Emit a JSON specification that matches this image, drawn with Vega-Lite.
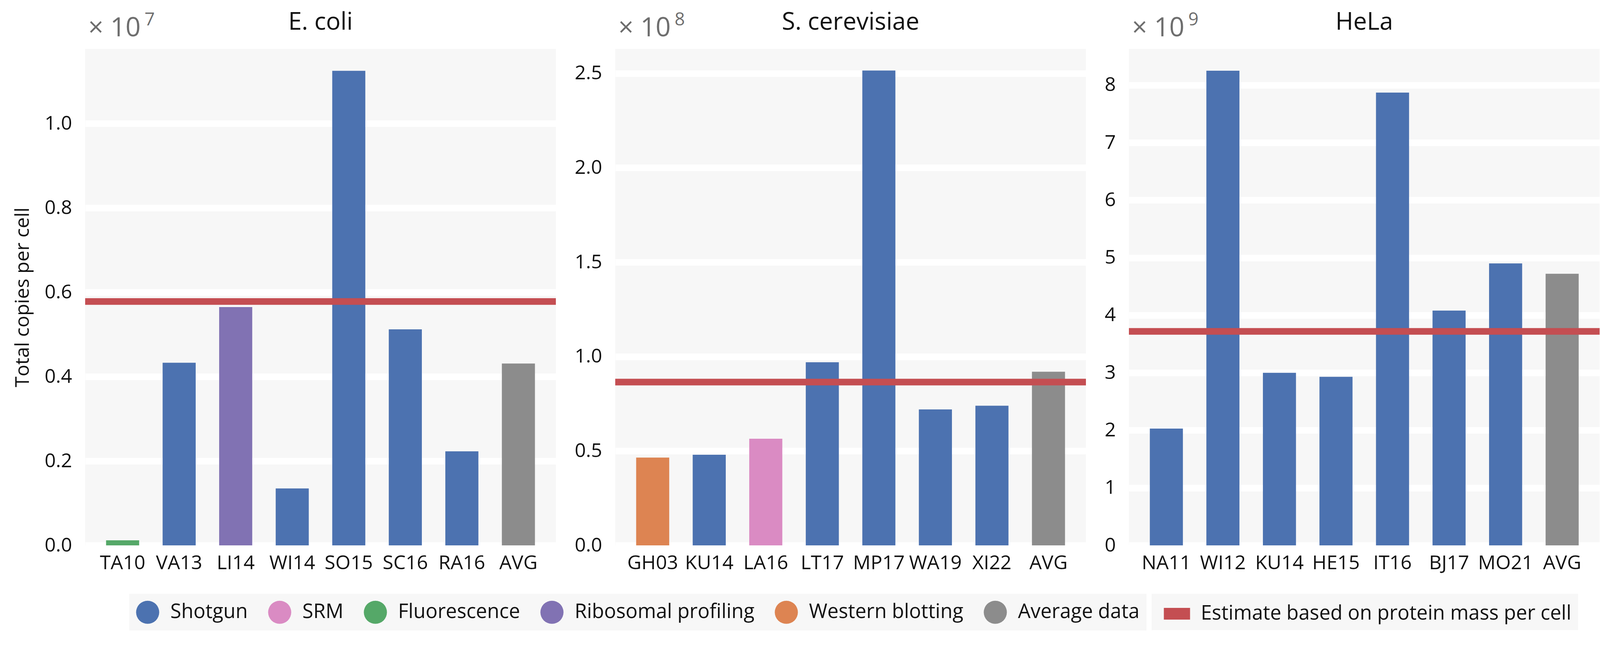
{
  "$schema": "https://vega.github.io/schema/vega-lite/v6.json",
  "padding": {"left": 33, "top": 26, "right": 5, "bottom": 5},
  "background": "#ffffff",
  "datasets": {
    "bars": [
      {"panel": "E. coli", "study": "TA10", "method": "Fluorescence", "value": 0.012},
      {"panel": "E. coli", "study": "VA13", "method": "Shotgun", "value": 0.433},
      {"panel": "E. coli", "study": "LI14", "method": "Ribosomal profiling", "value": 0.565},
      {"panel": "E. coli", "study": "WI14", "method": "Shotgun", "value": 0.135},
      {"panel": "E. coli", "study": "SO15", "method": "Shotgun", "value": 1.125},
      {"panel": "E. coli", "study": "SC16", "method": "Shotgun", "value": 0.512},
      {"panel": "E. coli", "study": "RA16", "method": "Shotgun", "value": 0.223},
      {"panel": "E. coli", "study": "AVG", "method": "Average data", "value": 0.431},
      {"panel": "S. cerevisiae", "study": "GH03", "method": "Western blotting", "value": 0.465},
      {"panel": "S. cerevisiae", "study": "KU14", "method": "Shotgun", "value": 0.48},
      {"panel": "S. cerevisiae", "study": "LA16", "method": "SRM", "value": 0.565},
      {"panel": "S. cerevisiae", "study": "LT17", "method": "Shotgun", "value": 0.97},
      {"panel": "S. cerevisiae", "study": "MP17", "method": "Shotgun", "value": 2.515},
      {"panel": "S. cerevisiae", "study": "WA19", "method": "Shotgun", "value": 0.72},
      {"panel": "S. cerevisiae", "study": "XI22", "method": "Shotgun", "value": 0.74},
      {"panel": "S. cerevisiae", "study": "AVG", "method": "Average data", "value": 0.92},
      {"panel": "HeLa", "study": "NA11", "method": "Shotgun", "value": 2.03},
      {"panel": "HeLa", "study": "WI12", "method": "Shotgun", "value": 8.25},
      {"panel": "HeLa", "study": "KU14", "method": "Shotgun", "value": 3.0},
      {"panel": "HeLa", "study": "HE15", "method": "Shotgun", "value": 2.93},
      {"panel": "HeLa", "study": "IT16", "method": "Shotgun", "value": 7.87},
      {"panel": "HeLa", "study": "BJ17", "method": "Shotgun", "value": 4.08},
      {"panel": "HeLa", "study": "MO21", "method": "Shotgun", "value": 4.9},
      {"panel": "HeLa", "study": "AVG", "method": "Average data", "value": 4.72}
    ],
    "est": [
      {"panel": "E. coli", "method": "Estimate based on protein mass per cell", "value": 0.578},
      {"panel": "S. cerevisiae", "method": "Estimate based on protein mass per cell", "value": 0.865},
      {"panel": "HeLa", "method": "Estimate based on protein mass per cell", "value": 3.72}
    ],
    "scale": [
      {"panel": "E. coli", "unit": "× 10", "exp": "7"},
      {"panel": "S. cerevisiae", "unit": "× 10", "exp": "8"},
      {"panel": "HeLa", "unit": "× 10", "exp": "9"}
    ]
  },
  "config": {
    "font": "Open Sans",
    "view": {"fill": "#f7f7f7", "stroke": null},
    "axis": {"labelFont": "Open Sans", "labelFontSize": 50, "labelColor": "#111111", "domain": false, "ticks": false, "grid": false, "titleFont": "Open Sans", "titleFontSize": 50, "titleFontWeight": "normal", "titleColor": "#111111"},
    "axisY": {"grid": true, "gridColor": "#ffffff", "gridWidth": 17, "labelPadding": 34, "titlePadding": 30},
    "axisX": {"labelPadding": 20, "labelAngle": 0},
    "title": {"font": "Open Sans", "fontSize": 62, "fontWeight": "normal", "color": "#111111", "anchor": "middle", "baseline": "alphabetic", "offset": -61},
    "legend": {"labelFont": "Open Sans", "labelFontSize": 51, "labelColor": "#111111", "labelLimit": 3000}
  },
  "spacing": 38,
  "resolve": {"scale": {"color": "shared", "stroke": "shared"}},
  "hconcat": [
    {
      "width": 1205, "height": 1271,
      "title": {"text": "E. coli"},
      "layer": [
        {
          "data": {"name": "bars"},
          "transform": [{"filter": {"field": "panel", "equal": "E. coli"}}],
          "mark": {"type": "bar"},
          "encoding": {
            "x": {"field": "study", "type": "nominal", "sort": null, "title": null, "scale": {"paddingInner": 0.415, "paddingOuter": 0.37}},
            "y": {"field": "value", "type": "quantitative", "title": "Total copies per cell", "scale": {"domain": [0, 1.177], "nice": false}, "axis": {"values": [0, 0.2, 0.4, 0.6, 0.8, 1.0], "format": ".1f"}},
            "color": {
              "field": "method", "type": "nominal",
              "scale": {
                "domain": ["Shotgun", "SRM", "Fluorescence", "Ribosomal profiling", "Western blotting", "Average data"],
                "range": ["#4c72b0", "#da8bc3", "#55a868", "#8172b3", "#dd8452", "#8c8c8c"]
              },
              "legend": {
                "title": null, "orient": "none", "legendX": 113, "legendY": 1395, "direction": "horizontal",
                "symbolType": "circle", "symbolSize": 3500, "symbolStrokeWidth": 0, "symbolOpacity": 1,
                "labelOffset": 28, "columnPadding": 51, "padding": 17,
                "fillColor": "#f7f7f7"
              }
            }
          }
        },
        {
          "data": {"name": "est"},
          "transform": [{"filter": {"field": "panel", "equal": "E. coli"}}],
          "mark": {"type": "rule", "strokeWidth": 17},
          "encoding": {
            "y": {"field": "value", "type": "quantitative", "scale": {"domain": [0, 1.177], "nice": false}},
            "stroke": {
              "field": "method", "type": "nominal",
              "scale": {"domain": ["Estimate based on protein mass per cell"], "range": ["#c44e52"]},
              "legend": {
                "title": null, "orient": "none", "legendX": 2730, "legendY": 1395, "direction": "horizontal",
                "symbolType": "M-1,-0.45H1V0.45H-1Z", "symbolSize": 4500, "symbolStrokeWidth": 0, "symbolOpacity": 1,
                "symbolFillColor": "#c44e52", "symbolStrokeColor": "#c44e52", "symbolOffset": 14,
                "labelOffset": 27, "padding": 17,
                "fillColor": "#f7f7f7"
              }
            }
          }
        },
        {
          "data": {"name": "scale"},
          "transform": [{"filter": {"field": "panel", "equal": "E. coli"}}],
          "mark": {"type": "text", "align": "left", "baseline": "alphabetic", "fontSize": 68, "color": "#6e6e6e", "dx": -88, "dy": -32},
          "encoding": {
            "x": {"datum": "TA10", "type": "nominal"},
            "y": {"datum": 1.177, "type": "quantitative", "scale": {"domain": [0, 1.177], "nice": false}},
            "text": {"field": "unit"}
          }
        },
        {
          "data": {"name": "scale"},
          "transform": [{"filter": {"field": "panel", "equal": "E. coli"}}],
          "mark": {"type": "text", "align": "left", "baseline": "alphabetic", "fontSize": 46, "color": "#6e6e6e", "dx": 56, "dy": -60},
          "encoding": {
            "x": {"datum": "TA10", "type": "nominal"},
            "y": {"datum": 1.177, "type": "quantitative", "scale": {"domain": [0, 1.177], "nice": false}},
            "text": {"field": "exp"}
          }
        }
      ]
    },
    {
      "width": 1205, "height": 1271,
      "title": {"text": "S. cerevisiae"},
      "layer": [
        {
          "data": {"name": "bars"},
          "transform": [{"filter": {"field": "panel", "equal": "S. cerevisiae"}}],
          "mark": {"type": "bar"},
          "encoding": {
            "x": {"field": "study", "type": "nominal", "sort": null, "title": null, "scale": {"paddingInner": 0.415, "paddingOuter": 0.37}},
            "y": {"field": "value", "type": "quantitative", "title": null, "scale": {"domain": [0, 2.63], "nice": false}, "axis": {"values": [0, 0.5, 1.0, 1.5, 2.0, 2.5], "format": ".1f", "titlePadding": 0}},
            "color": {"field": "method", "type": "nominal", "legend": null}
          }
        },
        {
          "data": {"name": "est"},
          "transform": [{"filter": {"field": "panel", "equal": "S. cerevisiae"}}],
          "mark": {"type": "rule", "strokeWidth": 17},
          "encoding": {
            "y": {"field": "value", "type": "quantitative", "scale": {"domain": [0, 2.63], "nice": false}},
            "stroke": {"field": "method", "type": "nominal", "legend": null}
          }
        },
        {
          "data": {"name": "scale"},
          "transform": [{"filter": {"field": "panel", "equal": "S. cerevisiae"}}],
          "mark": {"type": "text", "align": "left", "baseline": "alphabetic", "fontSize": 68, "color": "#6e6e6e", "dx": -88, "dy": -32},
          "encoding": {
            "x": {"datum": "GH03", "type": "nominal"},
            "y": {"datum": 2.63, "type": "quantitative", "scale": {"domain": [0, 2.63], "nice": false}},
            "text": {"field": "unit"}
          }
        },
        {
          "data": {"name": "scale"},
          "transform": [{"filter": {"field": "panel", "equal": "S. cerevisiae"}}],
          "mark": {"type": "text", "align": "left", "baseline": "alphabetic", "fontSize": 46, "color": "#6e6e6e", "dx": 56, "dy": -60},
          "encoding": {
            "x": {"datum": "GH03", "type": "nominal"},
            "y": {"datum": 2.63, "type": "quantitative", "scale": {"domain": [0, 2.63], "nice": false}},
            "text": {"field": "exp"}
          }
        }
      ]
    },
    {
      "width": 1205, "height": 1271,
      "title": {"text": "HeLa"},
      "layer": [
        {
          "data": {"name": "bars"},
          "transform": [{"filter": {"field": "panel", "equal": "HeLa"}}],
          "mark": {"type": "bar"},
          "encoding": {
            "x": {"field": "study", "type": "nominal", "sort": null, "title": null, "scale": {"paddingInner": 0.415, "paddingOuter": 0.37}},
            "y": {"field": "value", "type": "quantitative", "title": null, "scale": {"domain": [0, 8.63], "nice": false}, "axis": {"values": [0, 1, 2, 3, 4, 5, 6, 7, 8], "format": "d", "titlePadding": 0}},
            "color": {"field": "method", "type": "nominal", "legend": null}
          }
        },
        {
          "data": {"name": "est"},
          "transform": [{"filter": {"field": "panel", "equal": "HeLa"}}],
          "mark": {"type": "rule", "strokeWidth": 17},
          "encoding": {
            "y": {"field": "value", "type": "quantitative", "scale": {"domain": [0, 8.63], "nice": false}},
            "stroke": {"field": "method", "type": "nominal", "legend": null}
          }
        },
        {
          "data": {"name": "scale"},
          "transform": [{"filter": {"field": "panel", "equal": "HeLa"}}],
          "mark": {"type": "text", "align": "left", "baseline": "alphabetic", "fontSize": 68, "color": "#6e6e6e", "dx": -88, "dy": -32},
          "encoding": {
            "x": {"datum": "NA11", "type": "nominal"},
            "y": {"datum": 8.63, "type": "quantitative", "scale": {"domain": [0, 8.63], "nice": false}},
            "text": {"field": "unit"}
          }
        },
        {
          "data": {"name": "scale"},
          "transform": [{"filter": {"field": "panel", "equal": "HeLa"}}],
          "mark": {"type": "text", "align": "left", "baseline": "alphabetic", "fontSize": 46, "color": "#6e6e6e", "dx": 56, "dy": -60},
          "encoding": {
            "x": {"datum": "NA11", "type": "nominal"},
            "y": {"datum": 8.63, "type": "quantitative", "scale": {"domain": [0, 8.63], "nice": false}},
            "text": {"field": "exp"}
          }
        }
      ]
    }
  ]
}
